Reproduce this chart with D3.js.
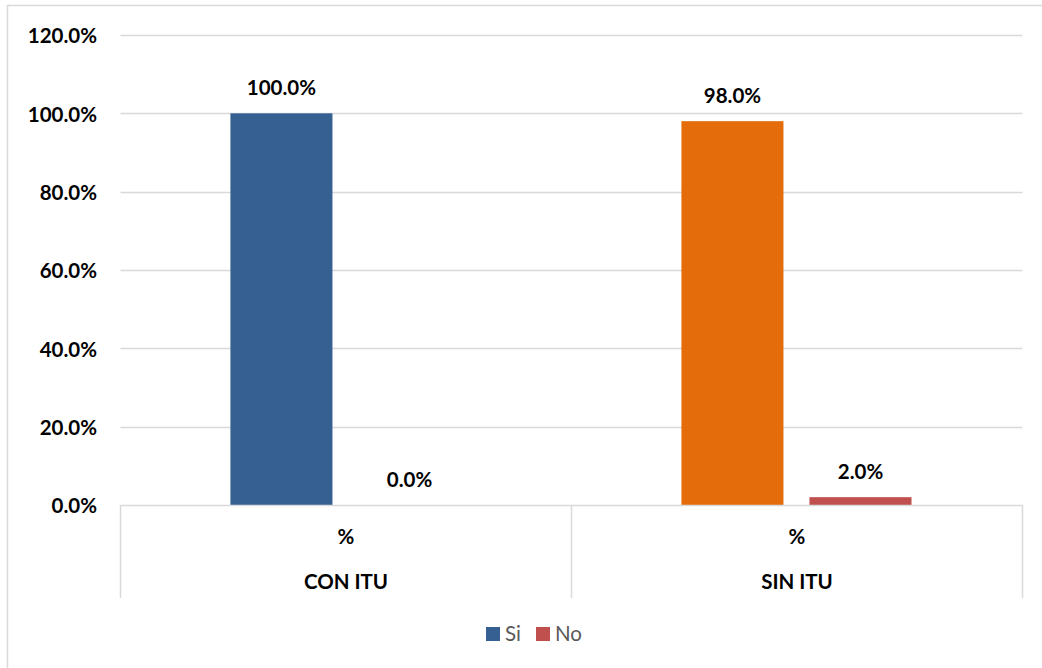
<!DOCTYPE html>
<html>
<head>
<meta charset="utf-8">
<script src="https://cdn.jsdelivr.net/npm/d3@7"></script>
<style>
  body { margin: 0; background: #fff; }
  svg { display: block; font-family: Lato, "Open Sans", sans-serif; }
</style>
</head>
<body>
<div id="chart"></div>
<script>
// data
var categories = ["CON ITU", "SIN ITU"];
var subLabels = ["%", "%"];
var series = ["Si", "No"];
var siValues = [1.00, 0.98];
var noValues = [0.00, 0.02];
var yTicks = [0, 0.2, 0.4, 0.6, 0.8, 1.0, 1.2];
// Si bar colour differs per point in the original
var siColors = ["#376092", "#E46C0A"];
var noColor = "#C0504D";
var legendColors = ["#376092", "#C0504D"];

var W = 1042, H = 668;
var plot = {left: 120.5, right: 1022.5, top: 35, bottom: 505};

var svg = d3.select("#chart").append("svg")
    .attr("width", W).attr("height", H);

// outer chart border (runs off the right/bottom edge)
svg.append("rect")
    .attr("x", 7.5).attr("y", 5.5)
    .attr("width", W + 10).attr("height", H + 10)
    .attr("fill", "none").attr("stroke", "#D9D9D9").attr("stroke-width", 1.5);

var y = d3.scaleLinear().domain([0, 1.2]).range([plot.bottom, plot.top]);
var x0 = d3.scaleBand().domain(categories).range([plot.left, plot.right]).padding(0);
var x1 = d3.scaleBand().domain(series)
    .range([x0.bandwidth() * 0.2437, x0.bandwidth() * 0.7539])
    .paddingInner(0.203).paddingOuter(0);

var fmt = d3.format(".1%");

// gridlines
svg.append("g").selectAll("line")
    .data(yTicks.slice(1))
    .enter().append("line")
    .attr("x1", plot.left).attr("x2", plot.right)
    .attr("y1", function(d) { return Math.round(y(d)) + 0.5; })
    .attr("y2", function(d) { return Math.round(y(d)) + 0.5; })
    .attr("stroke", "#D9D9D9").attr("stroke-width", 1.5);

// y tick labels
svg.append("g").selectAll("text")
    .data(yTicks)
    .enter().append("text")
    .attr("x", 97)
    .attr("y", function(d) { return y(d) + 1; })
    .attr("dy", "0.36em")
    .attr("text-anchor", "end")
    .style("font-size", "20.5px").style("font-weight", "bold")
    .attr("fill", "#000")
    .text(function(d) { return fmt(d); });

// bars
var rows = categories.map(function(c, i) {
  return [
    {cat: c, key: "Si", value: siValues[i], color: siColors[i]},
    {cat: c, key: "No", value: noValues[i], color: noColor}
  ];
});

var groups = svg.append("g").selectAll("g")
    .data(rows)
    .enter().append("g")
    .attr("transform", function(d) { return "translate(" + x0(d[0].cat) + ",0)"; });

groups.selectAll("rect")
    .data(function(d) { return d; })
    .enter().append("rect")
    .attr("x", function(d) { return x1(d.key); })
    .attr("width", x1.bandwidth())
    .attr("y", function(d) { return y(d.value); })
    .attr("height", function(d) { return y(0) - y(d.value); })
    .attr("fill", function(d) { return d.color; });

groups.selectAll("text")
    .data(function(d) { return d; })
    .enter().append("text")
    .attr("x", function(d) { return x1(d.key) + x1.bandwidth() / 2; })
    .attr("y", function(d) { return y(d.value) - 18; })
    .attr("text-anchor", "middle")
    .style("font-size", "20.5px").style("font-weight", "bold")
    .attr("fill", "#000")
    .text(function(d) { return fmt(d.value); });

// category axis (two levels)
var axis = svg.append("g").attr("stroke", "#D9D9D9").attr("stroke-width", 1.5);
axis.append("line")
    .attr("x1", plot.left).attr("x2", plot.right)
    .attr("y1", plot.bottom + 0.5).attr("y2", plot.bottom + 0.5);
var edges = categories.map(function(c) { return x0(c); }).concat([plot.right]);
axis.selectAll("line.sep")
    .data(edges)
    .enter().append("line")
    .attr("class", "sep")
    .attr("x1", function(d) { return d; }).attr("x2", function(d) { return d; })
    .attr("y1", plot.bottom).attr("y2", 598);

svg.append("g").selectAll("text")
    .data(categories)
    .enter().append("text")
    .attr("x", function(d) { return x0(d) + x0.bandwidth() / 2; })
    .attr("y", 537).attr("dy", "0.36em")
    .attr("text-anchor", "middle")
    .style("font-size", "20.5px").style("font-weight", "bold")
    .text(function(d, i) { return subLabels[i]; });

svg.append("g").selectAll("text")
    .data(categories)
    .enter().append("text")
    .attr("x", function(d) { return x0(d) + x0.bandwidth() / 2; })
    .attr("y", 582).attr("dy", "0.36em")
    .attr("text-anchor", "middle")
    .style("font-size", "20.5px").style("font-weight", "bold")
    .text(function(d) { return d; });

// legend
var legendX = [486, 536];
var legend = svg.append("g").selectAll("g")
    .data(series)
    .enter().append("g")
    .attr("transform", function(d, i) { return "translate(" + legendX[i] + ",627)"; });
legend.append("rect")
    .attr("width", 14).attr("height", 14)
    .attr("fill", function(d, i) { return legendColors[i]; });
legend.append("text")
    .attr("x", 19).attr("y", 7).attr("dy", "0.36em")
    .style("font-size", "20.5px")
    .attr("fill", "#595959")
    .text(function(d) { return d; });
</script>
</body>
</html>
